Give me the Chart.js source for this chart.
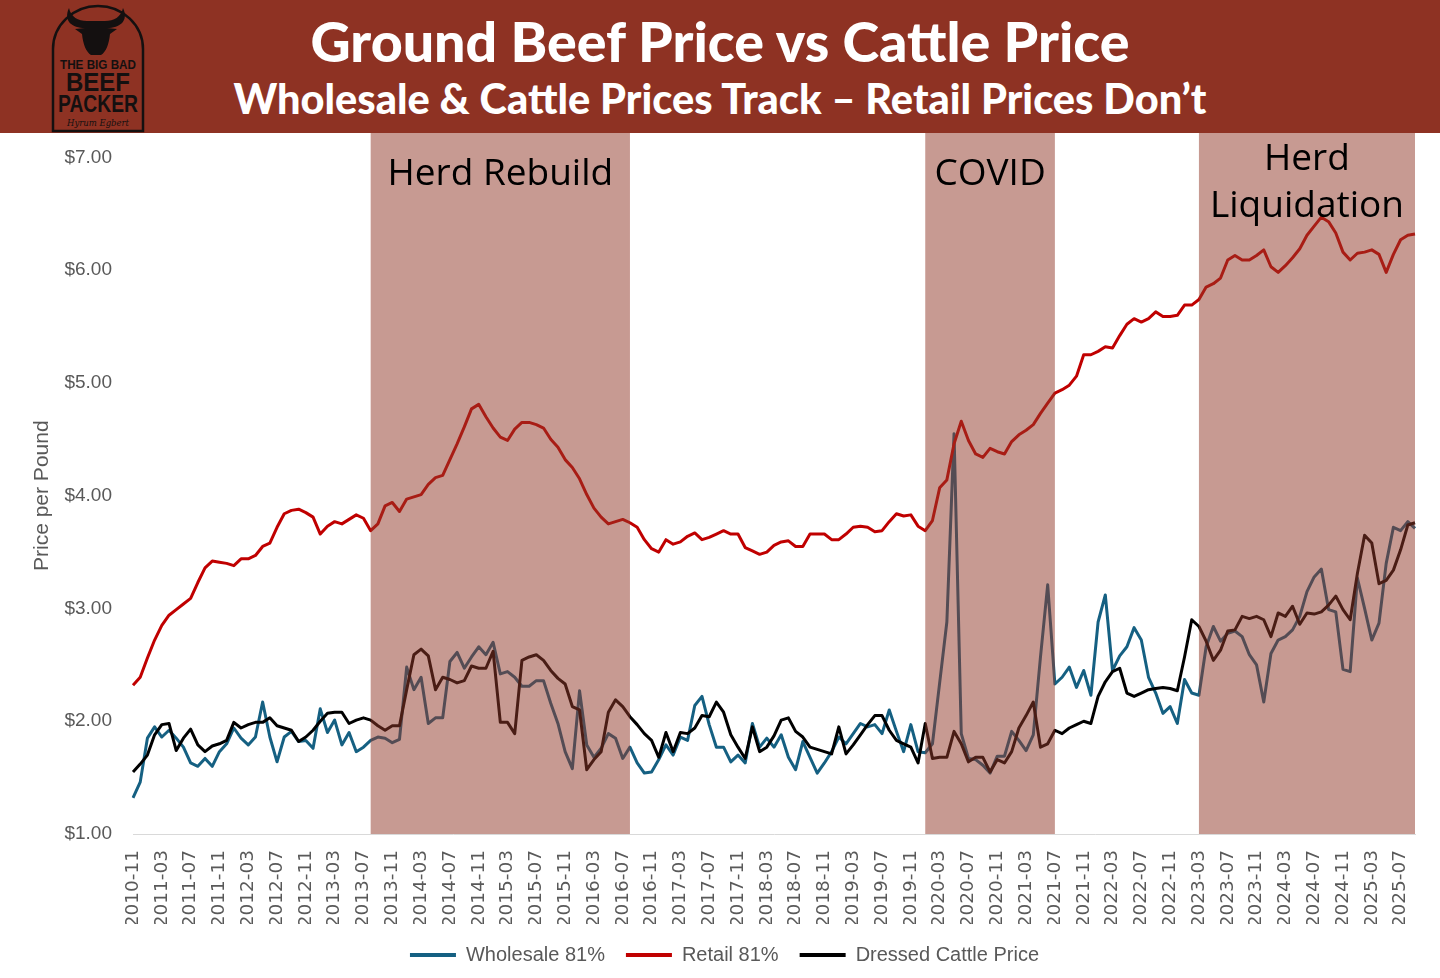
<!DOCTYPE html>
<html>
<head>
<meta charset="utf-8">
<title>Ground Beef Price vs Cattle Price</title>
<script src="https://cdn.jsdelivr.net/npm/chart.js@4.4.1/dist/chart.umd.min.js"></script>
<style>
    html, body { margin: 0; padding: 0; background: #fff; }
    body { width: 1440px; height: 978px; position: relative; overflow: hidden; }
    #header { position: absolute; left: 0; top: 0; width: 1440px; height: 133px; background: #8E3223; }
    .head-text { position: absolute; left: 0; width: 1440px; text-align: center; color: #fff; font-family: Lato, sans-serif; font-weight: 900; line-height: 1; white-space: nowrap; }
    #title { top: 13px; font-size: 55.5px; }
    #subtitle { top: 78px; font-size: 41.5px; }
    #logo { position: absolute; left: 50px; top: 3px; }
    #wrap { position: absolute; left: 0; top: 133px; width: 1440px; height: 845px; }
</style>
</head>
<body>
<div id="header">
    <svg id="logo" width="96" height="130" viewBox="0 0 96 130">
        <path d="M3 128 V46 A45 43 0 0 1 93 46 V128 Z" fill="none" stroke="#141010" stroke-width="2.5"/>
        <path d="M35 25 C22 25 13 18 19 5 C21 14 28 18 37 18 L55 18 C64 18 71 14 73 5 C79 18 70 25 57 25 L67 26 L60 31 C59 41 56 49 51 52 L41 52 C36 49 33 41 32 31 L25 26 Z" fill="#141010"/>
        <text x="48" y="66" text-anchor="middle" font-family="Liberation Sans" font-weight="bold" font-size="13" fill="#141010" textLength="76" lengthAdjust="spacingAndGlyphs">THE BIG BAD</text>
        <text x="48" y="88" text-anchor="middle" font-family="Liberation Sans" font-weight="bold" font-size="26" fill="#141010" textLength="64" lengthAdjust="spacingAndGlyphs">BEEF</text>
        <text x="48" y="109" text-anchor="middle" font-family="Liberation Sans" font-weight="bold" font-size="24" fill="#141010" textLength="80" lengthAdjust="spacingAndGlyphs">PACKER</text>
        <text x="48" y="123" text-anchor="middle" font-family="DejaVu Serif" font-style="italic" font-size="10" fill="#141010" textLength="62" lengthAdjust="spacingAndGlyphs">Hyrum Egbert</text>
    </svg>
    <div id="title" class="head-text">Ground Beef Price vs Cattle Price</div>
    <div id="subtitle" class="head-text">Wholesale &amp; Cattle Prices Track – Retail Prices Don’t</div>
</div>
<div id="wrap"><canvas id="beefChart"></canvas></div>

<script>
// monthly categories, 2010-11 through 2025-09
const monthLabels = [];
for (let y = 2010, m = 11; monthLabels.length < 179; m++) {
    if (m > 12) { m = 1; y++; }
    monthLabels.push(y + '-' + String(m).padStart(2, '0'));
}

// $/lb
const wholesale81 = [
    1.32, 1.46, 1.85, 1.95, 1.86, 1.92, 1.85, 1.77, 1.63, 1.60,
    1.67, 1.60, 1.73, 1.80, 1.94, 1.85, 1.79, 1.86, 2.17, 1.86,
    1.64, 1.86, 1.91, 1.82, 1.83, 1.76, 2.11, 1.90, 2.01, 1.79,
    1.90, 1.73, 1.77, 1.83, 1.86, 1.85, 1.81, 1.84, 2.48, 2.28,
    2.39, 1.98, 2.03, 2.03, 2.53, 2.61, 2.47, 2.57, 2.66, 2.59,
    2.70, 2.42, 2.44, 2.39, 2.31, 2.31, 2.36, 2.36, 2.16, 1.98,
    1.73, 1.58, 2.27, 1.79, 1.68, 1.76, 1.89, 1.85, 1.67, 1.77,
    1.63, 1.54, 1.55, 1.66, 1.79, 1.70, 1.86, 1.83, 2.14, 2.22,
    1.97, 1.77, 1.77, 1.64, 1.70, 1.63, 1.98, 1.77, 1.85, 1.77,
    1.88, 1.68, 1.57, 1.82, 1.68, 1.54, 1.63, 1.73, 1.86, 1.80,
    1.89, 1.98, 1.95, 1.97, 1.89, 2.10, 1.91, 1.73, 1.97, 1.73,
    1.72, 1.80, 2.34, 2.88, 4.55, 1.89, 1.67, 1.66, 1.61, 1.54,
    1.69, 1.69, 1.91, 1.83, 1.74, 1.88, 2.57, 3.21, 2.33, 2.39,
    2.48, 2.30, 2.45, 2.23, 2.88, 3.12, 2.45, 2.58, 2.66, 2.83,
    2.72, 2.39, 2.25, 2.07, 2.13, 1.98, 2.37, 2.25, 2.23, 2.66,
    2.84, 2.71, 2.78, 2.80, 2.75, 2.59, 2.50, 2.17, 2.60, 2.72,
    2.75, 2.81, 2.93, 3.15, 3.28, 3.35, 2.99, 2.97, 2.46, 2.44,
    3.27, 3.00, 2.72, 2.87, 3.40, 3.72, 3.69, 3.77, 3.71
];

const retail81 = [
    2.32, 2.39, 2.56, 2.72, 2.85, 2.94, 2.99, 3.04, 3.09, 3.23,
    3.36, 3.42, 3.41, 3.40, 3.38, 3.44, 3.44, 3.47, 3.55, 3.58,
    3.72, 3.84, 3.87, 3.88, 3.85, 3.81, 3.66, 3.73, 3.77, 3.75,
    3.79, 3.83, 3.80, 3.69, 3.75, 3.91, 3.94, 3.86, 3.97, 3.99,
    4.01, 4.10, 4.16, 4.18, 4.32, 4.46, 4.61, 4.77, 4.81, 4.70,
    4.60, 4.52, 4.49, 4.59, 4.65, 4.65, 4.63, 4.60, 4.50, 4.43,
    4.32, 4.25, 4.15, 4.01, 3.89, 3.81, 3.75, 3.77, 3.79, 3.76,
    3.72, 3.61, 3.53, 3.50, 3.61, 3.57, 3.59, 3.64, 3.67, 3.61,
    3.63, 3.66, 3.69, 3.66, 3.66, 3.54, 3.51, 3.48, 3.50, 3.56,
    3.59, 3.60, 3.55, 3.55, 3.66, 3.66, 3.66, 3.61, 3.61, 3.66,
    3.72, 3.73, 3.72, 3.68, 3.69, 3.77, 3.84, 3.82, 3.83, 3.73,
    3.69, 3.78, 4.07, 4.14, 4.46, 4.66, 4.49, 4.37, 4.34, 4.42,
    4.39, 4.37, 4.48, 4.54, 4.58, 4.63, 4.73, 4.82, 4.91, 4.94,
    4.98, 5.06, 5.25, 5.25, 5.28, 5.32, 5.31, 5.42, 5.52, 5.57,
    5.54, 5.57, 5.63, 5.59, 5.59, 5.60, 5.69, 5.69, 5.74, 5.85,
    5.88, 5.93, 6.09, 6.13, 6.09, 6.09, 6.13, 6.18, 6.03, 5.98,
    6.04, 6.11, 6.19, 6.31, 6.39, 6.47, 6.43, 6.33, 6.16, 6.09,
    6.15, 6.16, 6.18, 6.14, 5.98, 6.14, 6.27, 6.31, 6.32
];

const dressedCattle = [
    1.55, 1.62, 1.70, 1.88, 1.97, 1.98, 1.74, 1.85, 1.93, 1.79,
    1.73, 1.78, 1.80, 1.83, 1.99, 1.94, 1.97, 1.99, 1.99, 2.03,
    1.96, 1.94, 1.92, 1.82, 1.86, 1.92, 2.00, 2.07, 2.08, 2.08,
    1.98, 2.01, 2.03, 2.01, 1.96, 1.92, 1.96, 1.96, 2.28, 2.59,
    2.64, 2.58, 2.28, 2.39, 2.37, 2.34, 2.36, 2.49, 2.47, 2.47,
    2.62, 1.99, 1.99, 1.89, 2.54, 2.57, 2.59, 2.54, 2.45, 2.38,
    2.33, 2.13, 2.10, 1.57, 1.66, 1.73, 2.08, 2.19, 2.13, 2.04,
    1.97, 1.89, 1.83, 1.68, 1.90, 1.73, 1.90, 1.89, 1.94, 2.05,
    2.04, 2.17, 2.08, 1.88, 1.77, 1.67, 1.95, 1.73, 1.77, 1.87,
    2.01, 2.03, 1.91, 1.86, 1.77, 1.75, 1.73, 1.71, 1.95, 1.71,
    1.79, 1.88, 1.97, 2.05, 2.05, 1.92, 1.83, 1.80, 1.77, 1.63,
    1.98, 1.67, 1.68, 1.68, 1.91, 1.80, 1.64, 1.68, 1.68, 1.55,
    1.66, 1.63, 1.73, 1.94, 2.05, 2.17, 1.77, 1.80, 1.92, 1.89,
    1.94, 1.97, 2.00, 1.98, 2.22, 2.35, 2.44, 2.47, 2.25, 2.22,
    2.25, 2.28, 2.29, 2.30, 2.29, 2.27, 2.57, 2.90, 2.84, 2.71,
    2.54, 2.63, 2.80, 2.81, 2.93, 2.91, 2.93, 2.90, 2.75, 2.96,
    2.93, 3.02, 2.86, 2.96, 2.95, 2.97, 3.03, 3.11, 2.99, 2.90,
    3.31, 3.65, 3.58, 3.22, 3.25, 3.34, 3.52, 3.74, 3.76
];

// shaded market phases
const periods = [
    { text: ['Herd Rebuild'], from: '2013-08', to: '2016-08' },
    { text: ['COVID'], from: '2020-01', to: '2021-07' },
    { text: ['Herd', 'Liquidation'], from: '2023-03', to: '2025-09' },
];

const tickGrey = '#595959';

// draws the phase boxes on top of the lines, like the original overlay
const periodShading = {
    id: 'periodShading',
    afterDatasetsDraw(chart) {
        const ctx = chart.ctx;
        const x = chart.scales.x;
        const bottom = chart.chartArea.bottom;
        ctx.save();
        periods.forEach(p => {
            const x0 = x.getPixelForValue(monthLabels.indexOf(p.from));
            const x1 = x.getPixelForValue(monthLabels.indexOf(p.to));
            ctx.fillStyle = 'rgba(146, 56, 42, 0.51)';
            ctx.fillRect(x0, 0, x1 - x0, bottom);

            ctx.fillStyle = '#000';
            ctx.font = '37px "Open Sans"';
            ctx.textAlign = 'center';
            ctx.textBaseline = 'alphabetic';
            const firstLine = p.text.length > 1 ? 37 : 52;
            p.text.forEach((line, i) => {
                ctx.fillText(line, (x0 + x1) / 2, firstLine + i * 47);
            });
        });
        ctx.restore();
    }
};

// the legend sits a little right of the page centre in the original
const legendNudge = {
    id: 'legendNudge',
    afterLayout(chart) {
        chart.legend.left += 17;
        chart.legend.right += 17;
    }
};

function renderChart() {
    const ctx = document.getElementById('beefChart').getContext('2d');
    new Chart(ctx, {
        type: 'line',
        data: {
            labels: monthLabels,
            datasets: [
                {
                    label: 'Wholesale 81%',
                    data: wholesale81,
                    borderColor: '#156082',
                    backgroundColor: '#156082',
                    borderWidth: 3,
                    order: 2,
                },
                {
                    label: 'Retail 81%',
                    data: retail81,
                    borderColor: '#C00000',
                    backgroundColor: '#C00000',
                    borderWidth: 3,
                    order: 1,
                },
                {
                    label: 'Dressed Cattle Price',
                    data: dressedCattle,
                    borderColor: '#000000',
                    backgroundColor: '#000000',
                    borderWidth: 3,
                    order: 0,
                },
            ],
        },
        options: {
            responsive: true,
            maintainAspectRatio: false,
            animation: false,
            devicePixelRatio: 1,
            elements: {
                point: { radius: 0 },
                line: { tension: 0, borderJoinStyle: 'round' },
            },
            layout: {
                padding: { top: 18, right: 25, bottom: 3, left: 0 },
            },
            scales: {
                x: {
                    offset: false,
                    grid: { display: false },
                    border: { display: true, color: '#D9D9D9', width: 1 },
                    ticks: {
                        autoSkip: false,
                        minRotation: 90,
                        maxRotation: 90,
                        padding: 8,
                        color: tickGrey,
                        font: { family: 'DejaVu Sans', size: 18.5 },
                        callback: (val, i) => (i % 4 === 0 ? monthLabels[i] : ''),
                    },
                    afterFit: scale => {
                        scale.height = 90;
                        scale.paddingLeft = 0;
                        scale.paddingRight = 0;
                    },
                },
                y: {
                    min: 1,
                    max: 7,
                    grid: { display: false },
                    border: { display: false },
                    ticks: {
                        stepSize: 1,
                        padding: 13,
                        color: tickGrey,
                        font: { family: 'Liberation Sans', size: 19 },
                        callback: v => '$' + v.toFixed(2),
                    },
                    title: {
                        display: true,
                        text: 'Price per Pound',
                        color: tickGrey,
                        font: { family: 'Liberation Sans', size: 21 },
                        padding: { top: 30, bottom: 0 },
                    },
                    afterFit: scale => { scale.width = 133; },
                },
            },
            plugins: {
                legend: {
                    position: 'bottom',
                    sort: (a, b) => a.datasetIndex - b.datasetIndex,
                    labels: {
                        color: tickGrey,
                        boxWidth: 46,
                        boxHeight: 4,
                        padding: 21,
                        font: { family: 'Liberation Sans', size: 20 },
                        generateLabels: chart => chart.data.datasets.map((ds, i) => ({
                            text: ds.label,
                            fillStyle: ds.borderColor,
                            strokeStyle: ds.borderColor,
                            lineWidth: 0,
                            hidden: false,
                            datasetIndex: i,
                            fontColor: tickGrey,
                        })),
                    },
                },
                tooltip: { enabled: false },
            },
        },
        plugins: [periodShading, legendNudge],
    });
}

renderChart();
</script>
</body>
</html>
